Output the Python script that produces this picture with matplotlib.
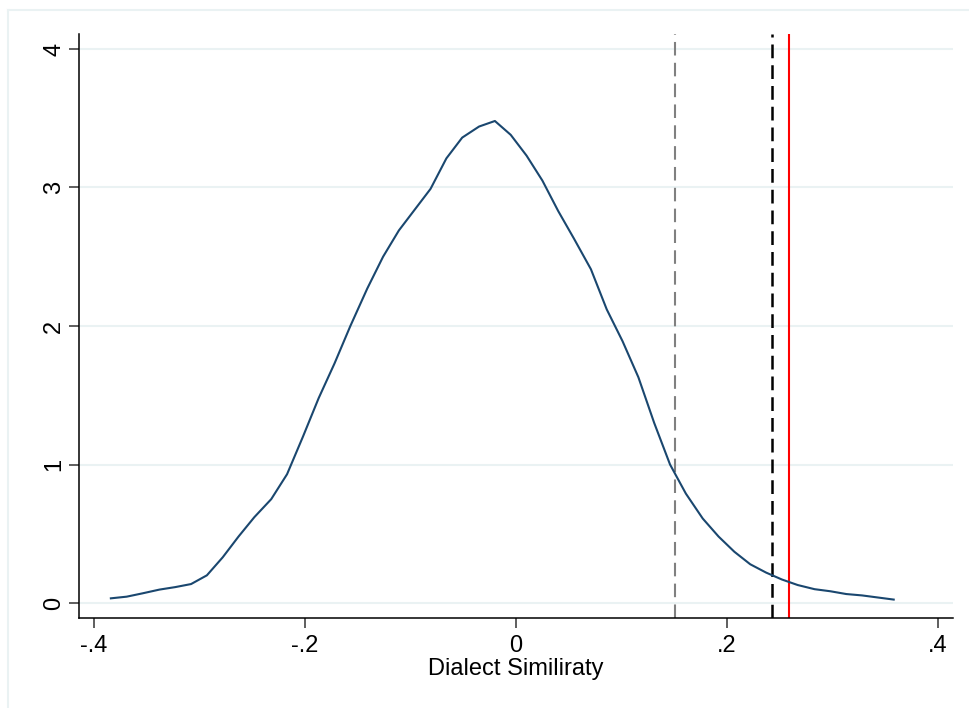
import matplotlib
matplotlib.use('Agg')
import matplotlib.pyplot as plt
from matplotlib.lines import Line2D

plt.rcParams['font.family'] = ['Liberation Sans', 'DejaVu Sans']

# kernel density estimate
similarity = [-0.384, -0.369, -0.354, -0.338, -0.323, -0.308, -0.293, -0.278, -0.263, -0.248,
              -0.232, -0.217, -0.202, -0.187, -0.172, -0.157, -0.141, -0.126, -0.111, -0.096,
              -0.081, -0.066, -0.051, -0.035, -0.020, -0.005, 0.010, 0.025, 0.040, 0.055,
              0.071, 0.086, 0.101, 0.116, 0.131, 0.146, 0.161, 0.177, 0.192, 0.207,
              0.222, 0.237, 0.252, 0.267, 0.283, 0.298, 0.313, 0.328, 0.343, 0.358]
density = [0.034, 0.046, 0.070, 0.097, 0.115, 0.137, 0.200, 0.330, 0.480, 0.620,
           0.750, 0.930, 1.200, 1.480, 1.730, 2.000, 2.270, 2.500, 2.690, 2.840,
           2.990, 3.210, 3.360, 3.440, 3.480, 3.380, 3.230, 3.050, 2.830, 2.630,
           2.410, 2.120, 1.890, 1.630, 1.300, 1.000, 0.790, 0.610, 0.480, 0.370,
           0.280, 0.220, 0.170, 0.130, 0.100, 0.085, 0.065, 0.055, 0.040, 0.025]

# reference lines
gray_line = 0.1505
black_line = 0.243
red_line = 0.2585

xticks = [-0.4, -0.2, 0, 0.2, 0.4]
xtick_labels = ['-.4', '-.2', '0', '.2', '.4']
yticks = [0, 1, 2, 3, 4]

W, H = 969, 708
fig = plt.figure(figsize=(W / 100, H / 100), dpi=100)
ax = fig.add_axes([79 / W, (H - 618) / H, (953 - 79) / W, (618 - 34) / H])

grid_col = '#eaf2f3'
for y in yticks:
    ax.axhline(y, color=grid_col, lw=1.5, zorder=0)

ax.plot(similarity, density, color='#1a476f', lw=1.5, zorder=3)

ax.axvline(gray_line, color='#808080', lw=1.5, dashes=(6.5, 3.5), zorder=2)
ax.axvline(black_line, color='black', lw=1.8, dashes=(5.5, 2.8), zorder=2)
ax.axvline(red_line, color='#ff0000', lw=1.5, zorder=2)

ax.set_xlim(-0.4142, 0.4142)
ax.set_ylim(-0.108, 4.108)
ax.set_xticks(xticks)
ax.set_xticklabels(xtick_labels)
ax.set_yticks(yticks)
ax.set_yticklabels([str(v) for v in yticks], rotation=90, va='center')

for s in ['top', 'right']:
    ax.spines[s].set_visible(False)
for s in ['left', 'bottom']:
    ax.spines[s].set_linewidth(1.1)
    ax.spines[s].set_color('black')
ax.tick_params(axis='both', length=7, width=1.1, color='#333333', labelsize=17)
ax.tick_params(axis='x', pad=5)
ax.tick_params(axis='y', pad=3)

ax.set_xlabel('Dialect Similiraty', fontsize=17, labelpad=1)

# light frame from the cropped screenshot
fig.add_artist(Line2D([8 / W, 8 / W], [0, 1 - 10 / H], color=grid_col, lw=1.5))
fig.add_artist(Line2D([8 / W, 1], [1 - 10 / H, 1 - 10 / H], color=grid_col, lw=1.5))

fig.savefig('out.png', dpi=100, facecolor='white')
